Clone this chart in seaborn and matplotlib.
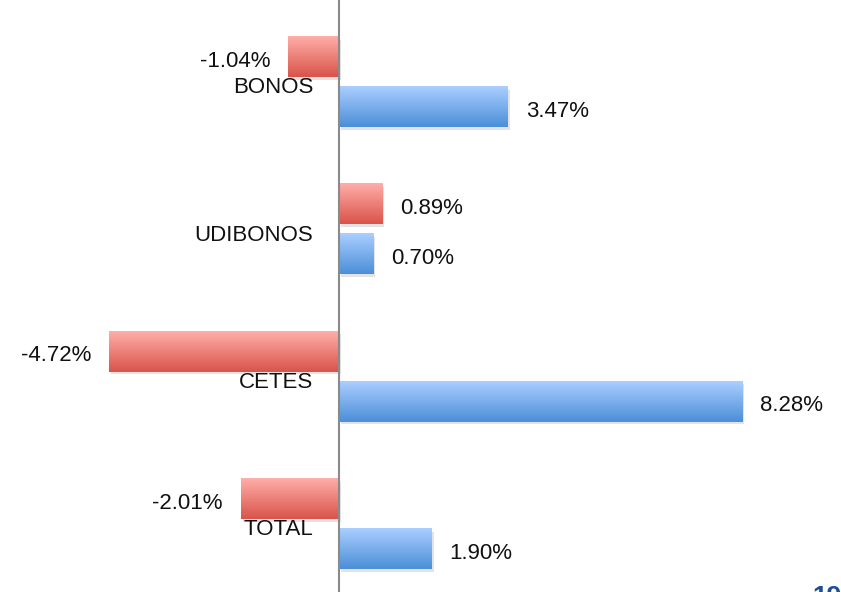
import numpy as np
import pandas as pd
import matplotlib
matplotlib.use("Agg")
import matplotlib.pyplot as plt
import matplotlib.patheffects as pe
from matplotlib.colors import LinearSegmentedColormap
import seaborn as sns

categories = ["BONOS", "UDIBONOS", "CETES", "TOTAL"]
series_names = ["Serie 1", "Serie 2"]
serie1 = [-1.04, 0.89, -4.72, -2.01]
serie2 = [3.47, 0.70, 8.28, 1.90]

df = pd.DataFrame({
    "categoria": categories * 2,
    "serie": [series_names[0]] * 4 + [series_names[1]] * 4,
    "valor": serie1 + serie2,
})

sns.set_theme(style="white")
plt.rcParams["font.family"] = ["Liberation Sans", "DejaVu Sans"]

fig = plt.figure(figsize=(8.41, 5.92), dpi=100)
ax = fig.add_axes([0, 0, 1, 1])

mid_colors = {"Serie 1": "#EB7A73", "Serie 2": "#78AEEA"}
grads = {
    "Serie 1": ("#FFAEA9", "#D9544B"),
    "Serie 2": ("#AACEFF", "#4C8FD8"),
}

sns.barplot(data=df, y="categoria", x="valor", hue="serie", order=categories,
            hue_order=series_names, palette=mid_colors, orient="h",
            width=0.679, gap=0.198, legend=False, ax=ax, saturation=1)

xlim = (-6.96, 10.31)
ylim = (3.462, -0.557)

for cont, name in zip(ax.containers, series_names):
    cmap = LinearSegmentedColormap.from_list(name, grads[name])
    grad = np.linspace(0, 1, 64).reshape(-1, 1)
    for patch in cont.patches:
        patch.set_path_effects([pe.SimplePatchShadow(offset=(1.5, -2), alpha=0.15, shadow_rgbFace="#444444"),
                                pe.Normal()])
        patch.set_edgecolor("none")
        x0, y0 = patch.get_x(), patch.get_y()
        w, h = patch.get_width(), patch.get_height()
        xa, xb = min(x0, x0 + w), max(x0, x0 + w)
        ya, yb = min(y0, y0 + h), max(y0, y0 + h)
        ax.imshow(grad, cmap=cmap, extent=(xa, xb, yb, ya), origin="upper",
                  aspect="auto", zorder=patch.get_zorder() + 0.1, interpolation="bilinear")
    labels = [f"{v:.2f}%" for v in cont.datavalues]
    anns = ax.bar_label(cont, labels=labels, padding=13, fontsize=16, color="#111111")
    for a in anns:
        ox, oy = a.xyann
        a.xyann = (ox, oy - 3)

ax.set_xlim(*xlim)
ax.set_ylim(*ylim)
ax.axvline(0, color="#8a8a8a", lw=1.5, zorder=5)

for i, c in enumerate(categories):
    ax.text(-0.53, i + 0.04, c, ha="right", va="center", fontsize=16,
            color="#111111", zorder=6)

ax.set_xticks([])
ax.set_yticks([])
ax.set_xlabel("")
ax.set_ylabel("")
for s in ax.spines.values():
    s.set_visible(False)

fig.text(812 / 841, 1 - 585 / 592, "19", ha="left", va="top", fontsize=19,
         fontweight="bold", color="#1F4E96")

fig.savefig("out.png", dpi=100)
